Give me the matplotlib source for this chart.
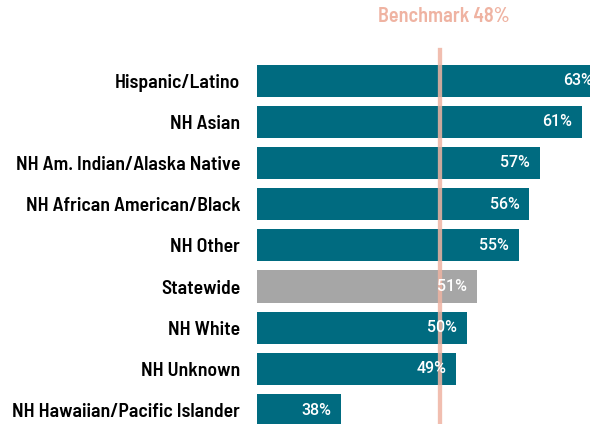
import matplotlib
matplotlib.use("Agg")
import matplotlib.pyplot as plt
from matplotlib.transforms import blended_transform_factory

groups = ["Hispanic/Latino", "NH Asian", "NH Am. Indian/Alaska Native",
          "NH African American/Black", "NH Other", "Statewide", "NH White",
          "NH Unknown", "NH Hawaiian/Pacific Islander"]
rates = [63, 61, 57, 56, 55, 51, 50, 49, 38]
benchmark = 47.5
benchmark_label = "Benchmark 48%"

teal = "#006B80"
grey = "#A6A6A6"
pink = "#EFB3A2"
font = ["Barlow Semi Condensed", "DejaVu Sans"]

fig = plt.figure(figsize=(5.9, 4.24), dpi=100)
ax = fig.add_axes([257 / 590, -0.0156, 1 - 257 / 590, 0.874])

ypos = list(range(len(groups)))
colors = [grey if g == "Statewide" else teal for g in groups]
ax.barh(ypos, [r - 30 for r in rates], left=30, height=0.78, color=colors)

# value labels just inside the bar end
for y, r in zip(ypos, rates):
    ax.annotate(f"{r}%", (r, y), xytext=(-7, 0), textcoords="offset points",
                ha="right", va="center", color="white", fontsize=11.5,
                fontweight=500, family=["Roboto", "DejaVu Sans"],
                annotation_clip=False)

ax.axvline(benchmark, ymin=0, ymax=1.027, color=pink, lw=3.1, alpha=0.85,
           clip_on=False)
tr = blended_transform_factory(ax.transData, fig.transFigure)
ax.text(benchmark + 0.35, 0.962, benchmark_label, transform=tr, ha="center",
        va="center", color=pink, fontsize=14.5, fontweight=600, family=font)

ax.set_xlim(30, 61.78)
ax.set_ylim(len(groups) - 0.5, -0.5)
ax.set_yticks(ypos)
ax.set_yticklabels(groups, fontsize=14.2, fontweight=600, family=font)
ax.tick_params(axis="y", length=0, pad=12)
ax.set_xticks([])
for s in ax.spines.values():
    s.set_visible(False)

fig.savefig("out.png", dpi=100)
